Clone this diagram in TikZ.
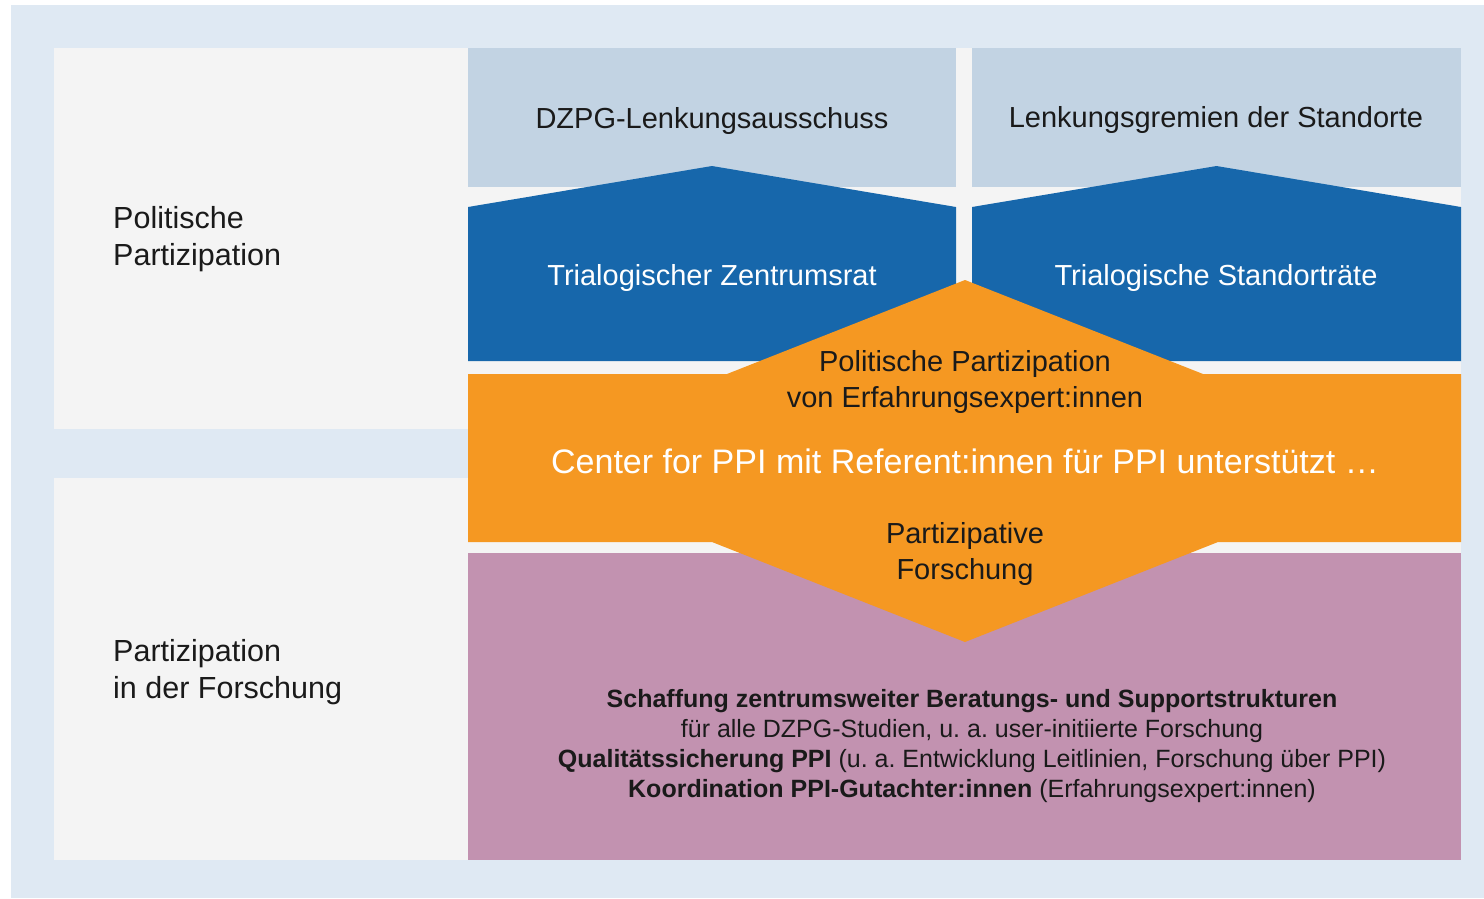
\documentclass[tikz,border=0pt]{standalone}
\usepackage{fontspec}
\setmainfont{Liberation Sans}
\usetikzlibrary{positioning}
\frenchspacing
\definecolor{hellblau}{HTML}{DFE9F3}
\definecolor{hellgrau}{HTML}{F4F4F4}
\definecolor{graublau}{HTML}{C2D3E3}
\definecolor{dzpgblau}{HTML}{1767AB}
\definecolor{dzpgorange}{HTML}{F59822}
\definecolor{dzpglila}{HTML}{C292B0}
\definecolor{dunkel}{HTML}{1A1A1A}

\begin{document}
\begin{tikzpicture}[x=1pt, y=-1pt, % 1 Pixel = 1pt, y nach unten
  schrift/.style={font=\fontsize{29}{36}\selectfont, text=dunkel, align=center, inner sep=0pt},
  seite/.style={font=\fontsize{30.5}{37}\selectfont, text=dunkel, align=left, inner sep=0pt, anchor=west},
  klein/.style={font=\fontsize{25}{30}\selectfont, text=dunkel, align=center, inner sep=0pt}]
\useasboundingbox (0,0) rectangle (1484,898);
% Hintergrund
\fill[hellblau] (11,5) rectangle (1484,898);
\fill[hellgrau] (54,48) rectangle (468,429); % oberes Feld links
\fill[hellgrau] (54,478) rectangle (468,860); % unteres Feld links
\fill[hellgrau] (468,48) rectangle (1461,860); % rechte Spalte
% Lenkungsgremien und Raete
\foreach \l/\r in {468/956, 972/1461} {
  \fill[graublau] (\l,48) rectangle (\r,187); % Kasten oben
  \fill[dzpgblau] (\l,207) -- ({(\l+\r)/2},166) -- (\r,207) -- (\r,361) -- (\l,361) -- cycle; % Pfeil
}
% Forschung
\fill[dzpglila] (468,553) rectangle (1461,860);
% Center for PPI mit Raute
\fill[dzpgorange] (468,374) -- (727,374) -- (965,280) -- (1203,374) -- (1461,374) -- (1461,542)
  -- (1218,542) -- (965,642) -- (712,542) -- (468,542) -- cycle;
% Beschriftungen links
\node[seite] (polit) at (113,239) {Politische\\Partizipation};
\node[seite] (forsch) at (113,672) {Partizipation\\in der Forschung};
% Beschriftungen rechts
\node[schrift] (dzpg) at (712,121) {DZPG-Lenkungsausschuss};
\node[schrift] (lenkung) at (1216,120) {Lenkungsgremien der Standorte};
\node[schrift, text=white] (zentrumsrat) at (712,278) {Trialogischer Zentrumsrat};
\node[schrift, text=white] (standortraete) at (1216,278) {Trialogische Standorträte};
\node[schrift] (politpart) at (965,382) {Politische Partizipation\\von Erfahrungsexpert:innen};
\node[schrift, text=white, font=\fontsize{34}{40}\selectfont] (center) at (965,461) {Center for PPI mit Referent:innen für PPI unterstützt …};
\node[schrift] (partforsch) at (965,554) {Partizipative\\Forschung};
\node[klein] (support) at (972,746) {\textbf{Schaffung zentrumsweiter Beratungs- und Supportstrukturen}\\
  für alle DZPG-Studien, u. a. user-initiierte Forschung\\
  \textbf{Qualitätssicherung PPI} (u. a. Entwicklung Leitlinien, Forschung über PPI)\\
  \textbf{Koordination PPI-Gutachter:innen} (Erfahrungsexpert:innen)};
\end{tikzpicture}
\end{document}
